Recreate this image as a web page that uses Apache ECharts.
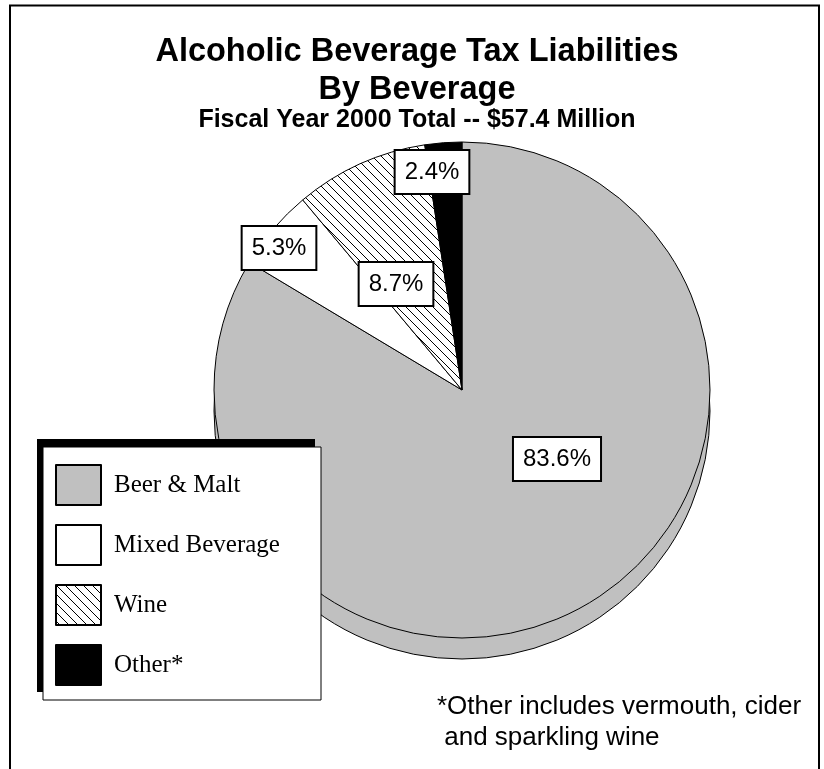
<!DOCTYPE html>
<html>
<head>
<meta charset="utf-8">
<script src="https://cdn.jsdelivr.net/npm/echarts@6/dist/echarts.min.js"></script>
<style>
html,body{margin:0;padding:0;background:#fff;}
#chart{width:824px;height:769px;}
</style>
</head>
<body>
<div id="chart"></div>
<script>
// ---- data ----
const categories = ['Beer & Malt', 'Mixed Beverage', 'Wine', 'Other*'];
const shares = [83.6, 5.3, 8.7, 2.4];
const titleLines = ['Alcoholic Beverage Tax Liabilities', 'By Beverage'];
const subtitleText = 'Fiscal Year 2000 Total -- $57.4 Million';
const footnoteLines = ['*Other includes vermouth, cider', ' and sparkling wine'];

// ---- styles ----
function hatchPattern() {
  const s = 9;
  const c = document.createElement('canvas');
  c.width = s; c.height = s;
  const g = c.getContext('2d');
  g.fillStyle = '#fff';
  g.fillRect(0, 0, s, s);
  g.strokeStyle = '#000';
  g.lineWidth = 1;
  g.beginPath();
  g.moveTo(-1, -1); g.lineTo(s + 1, s + 1);
  g.moveTo(-1, s - 1); g.lineTo(1, s + 1);
  g.moveTo(s - 1, -1); g.lineTo(s + 1, 1);
  g.stroke();
  return c;
}
const fills = ['#c0c0c0', '#ffffff', { image: hatchPattern(), repeat: 'repeat' }, '#000000'];
const labelPos = [[557, 459], [279, 248], [396, 284], [432, 172]];
const sans = "'Liberation Sans', Arial, sans-serif";
const serif = "'Liberation Serif', 'Times New Roman', serif";

const chart = echarts.init(document.getElementById('chart'), null, { renderer: 'canvas' });

const frontData = categories.map((n, i) => ({ name: n, value: shares[i], itemStyle: { color: fills[i] } }));
const backData = categories.map((n, i) => ({ name: n, value: shares[i] }));

const option = {
  animation: false,
  backgroundColor: '#fff',
  title: [
    {
      text: titleLines.join('\n'),
      left: 412, top: 28, textAlign: 'center',
      textStyle: { fontFamily: sans, fontSize: 32.5, fontWeight: 'bold', color: '#000', lineHeight: 38 }
    },
    {
      text: subtitleText,
      left: 412, top: 101, textAlign: 'center',
      textStyle: { fontFamily: sans, fontSize: 25, fontWeight: 'bold', color: '#000', lineHeight: 28 }
    },
    {
      text: footnoteLines.join('\n'),
      left: 432, top: 686,
      textStyle: { fontFamily: sans, fontSize: 26, fontWeight: 'normal', color: '#000', lineHeight: 31 }
    }
  ],
  legend: {
    orient: 'vertical',
    left: 55, top: 464,
    padding: 0,
    itemWidth: 45, itemHeight: 40, itemGap: 18,
    icon: 'rect',
    selectedMode: false,
    data: categories,
    z: 5,
    textStyle: { fontFamily: serif, fontSize: 25, lineHeight: 30, color: '#000', padding: [0, 0, 0, 8] }
  },
  graphic: [
    { type: 'rect', z: 3, shape: { x: 37, y: 439, width: 278, height: 253 }, style: { fill: '#000' }, silent: true },
    { type: 'rect', z: 3, shape: { x: 43, y: 447, width: 278, height: 253 }, style: { fill: '#fff', stroke: '#000', lineWidth: 1 }, silent: true },
    { type: 'rect', z: 10, shape: { x: 10, y: 5.5, width: 809, height: 800 }, style: { fill: 'none', stroke: '#000', lineWidth: 2 }, silent: true }
  ],
  series: [
    {
      type: 'pie',
      z: 2,
      center: [462, 390],
      radius: 248,
      startAngle: 90,
      clockwise: true,
      data: frontData,
      itemStyle: { borderColor: '#000', borderWidth: 1 },
      emphasis: { disabled: true },
      silent: true,
      label: {
        show: true,
        position: 'inside',
        formatter: p => p.value.toFixed(1) + '%',
        fontFamily: sans, fontSize: 24, color: '#000',
        backgroundColor: '#fff', borderColor: '#000', borderWidth: 2,
        padding: [9, 9, 9, 9], lineHeight: 24
      },
      labelLine: { show: false },
      labelLayout: p => ({ x: labelPos[p.dataIndex][0], y: labelPos[p.dataIndex][1] })
    },
    {
      type: 'pie',
      z: 1,
      center: [462, 411],
      radius: 248,
      startAngle: 90,
      clockwise: true,
      data: backData,
      itemStyle: { color: '#c0c0c0', borderColor: '#000', borderWidth: 1 },
      emphasis: { disabled: true },
      silent: true,
      legendHoverLink: false,
      label: { show: false },
      labelLine: { show: false }
    }
  ]
};
chart.setOption(option);
</script>
</body>
</html>
